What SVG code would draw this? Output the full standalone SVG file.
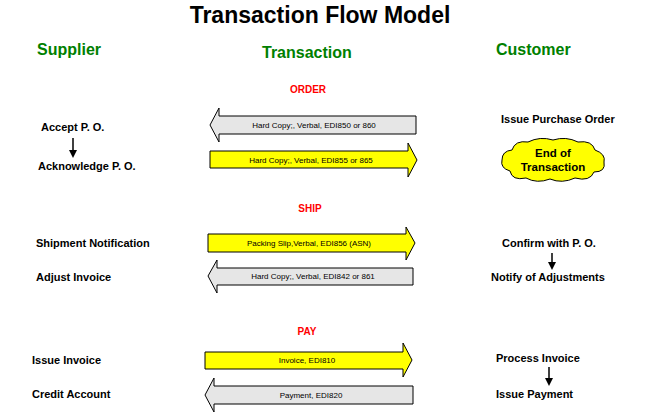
<svg xmlns="http://www.w3.org/2000/svg" width="649" height="413" viewBox="0 0 649 413">
<style>
text{font-family:"Liberation Sans",Arial,sans-serif;font-weight:bold;fill:#000}
.title{font-size:23px}
.head{font-size:16px;fill:#008000}
.sec{font-size:10px;fill:#ff0000;text-anchor:middle}
.lbl{font-size:11px}
.al{font-size:8px;font-weight:normal;text-anchor:middle}
.gray{fill:#e6e6e6;stroke:#000;stroke-width:1}
.yel{fill:#ffff00;stroke:#000;stroke-width:1}
.cl{font-size:11.5px;text-anchor:middle}
</style>
<rect width="649" height="413" fill="#fff"/>
<text class="title" x="320" y="23" text-anchor="middle">Transaction Flow Model</text>
<text class="head" x="37" y="55">Supplier</text>
<text class="head" x="262" y="58">Transaction</text>
<text class="head" x="496" y="55">Customer</text>
<text class="sec" x="308" y="93">ORDER</text>
<text class="sec" x="310" y="212">SHIP</text>
<text class="sec" x="307" y="335">PAY</text>

<g id="supplier">
<text class="lbl" x="41" y="131">Accept P. O.</text>
<text class="lbl" x="38" y="170">Acknowledge P. O.</text>
<text class="lbl" x="36" y="247">Shipment Notification</text>
<text class="lbl" x="36" y="281">Adjust Invoice</text>
<text class="lbl" x="32" y="364">Issue Invoice</text>
<text class="lbl" x="32" y="398">Credit Account</text>
</g>
<g id="customer">
<text class="lbl" x="501" y="123">Issue Purchase Order</text>
<text class="lbl" x="502" y="247">Confirm with P. O.</text>
<text class="lbl" x="491" y="281">Notify of Adjustments</text>
<text class="lbl" x="496" y="362">Process Invoice</text>
<text class="lbl" x="496" y="398">Issue Payment</text>
</g>
<g id="end">
<path class="yel" d="M512,150 Q515,140 528,142 Q540,136 553,140 Q566,136 578,142 Q592,140 595,150 Q606,154 604,162 Q606,172 594,172 Q590,182 575,178 Q562,184 550,179 Q537,184 526,178 Q512,181 510,171 Q500,168 502,160 Q502,151 512,150 Z"/>
<text class="cl" x="553" y="157">End of</text>
<text class="cl" x="553" y="171">Transaction</text>
</g>
<g id="connectors" stroke="#000" stroke-width="1.5" fill="#000">
<line x1="73" y1="138" x2="73" y2="151"/><path d="M69,150 L77,150 L73,158 Z" stroke="none"/>
<line x1="552" y1="253" x2="552" y2="263"/><path d="M548,262 L556,262 L552,270 Z" stroke="none"/>
<line x1="549" y1="367" x2="549" y2="379"/><path d="M545,378 L553,378 L549,386 Z" stroke="none"/>
</g>
<g id="flows">
<g id="f1"><polygon class="gray" points="210,125 219,108 219,116 416,116 416,134 219,134 219,142"/><text class="al" x="314" y="128">Hard Copy;, Verbal, EDI850 or 860</text></g>
<g id="f2"><polygon class="yel" points="210,151 408,151 408,143 417,160 408,177 408,168 210,168"/><text class="al" x="311" y="163">Hard Copy;, Verbal, EDI855 or 865</text></g>
<g id="f3"><polygon class="yel" points="208,234 406,234 406,227 415,243 406,260 406,252 208,252"/><text class="al" x="309" y="246">Packing Slip,Verbal, EDI856 (ASN)</text></g>
<g id="f4"><polygon class="gray" points="208,276 217,260 217,268 413,268 413,285 217,285 217,293"/><text class="al" x="313" y="279">Hard Copy;, Verbal, EDI842 or 861</text></g>
<g id="f5"><polygon class="yel" points="205,352 403,352 403,343 412,360 403,377 403,369 205,369"/><text class="al" x="307" y="363">Invoice, EDI810</text></g>
<g id="f6"><polygon class="gray" points="205,395 214,378 214,386 413,386 413,404 214,404 214,412"/><text class="al" x="311" y="398">Payment, EDI820</text></g>
</g>
</svg>
